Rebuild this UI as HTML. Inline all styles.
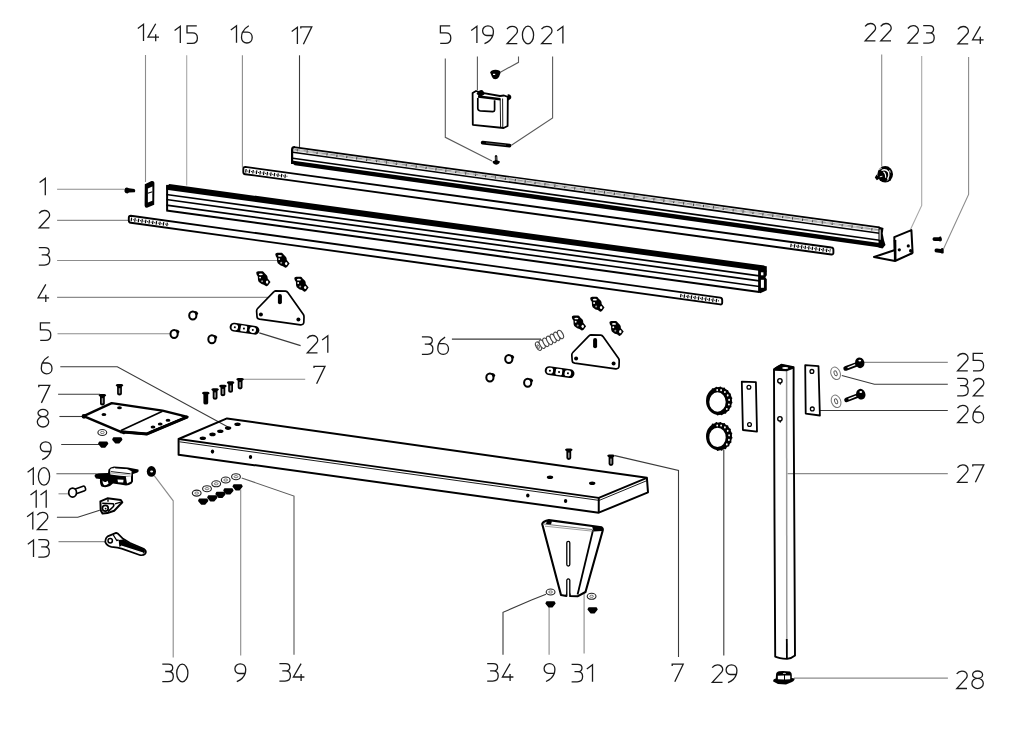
<!DOCTYPE html>
<html><head><meta charset="utf-8"><title>Parts diagram</title><style>
body{margin:0;background:#fff;font-family:"Liberation Sans",sans-serif;}
svg{display:block}
.k{stroke:#000;fill:none;stroke-linejoin:round}
.ld{stroke-width:1.1;fill:none}
.dg{stroke:#1a1a1a;stroke-width:1.3;fill:none}
</style></head>
<body><svg width="1024" height="737" viewBox="0 0 1024 737">
<defs><path id="g0" d="M5.7,0 A5.6,8.8 0 1 0 5.7,17.6 A5.6,8.8 0 1 0 5.7,0 Z"/><path id="g1" d="M0.2,4.6 L5.9,0.4 V17.3"/><path id="g2" d="M0.3,2.9 C1.8,0.9 3.4,0.1 5.5,0.1 C8.6,0.1 10.8,1.9 10.8,4.5 C10.8,5.6 10.4,6.5 9.7,7.4 L0.4,17.5 H10.6"/><path id="g3" d="M0,0 H6 C8.9,0 10.4,1.7 10.4,3.7 C10.4,5.8 8.9,7.3 6,7.3 H2.9 M6,7.3 C9.1,7.3 11,9.2 11,12.2 C11,15.4 9,17.5 5.6,17.5 H0"/><path id="g4" d="M7.7,0 L0,13.4 H11 M7.7,10.4 V17.5"/><path id="g5" d="M10.4,0 H0.6 V7 H6 C9,7 11,9.1 11,12.1 C11,15.4 9,17.5 5.6,17.5 H0.4"/><path id="g6" d="M7.6,0.3 C5,1.8 2.6,3.8 1.3,6.8 H6.3 C9,6.8 11,9 11,12.2 C11,15.3 8.8,17.6 5.7,17.6 C2.6,17.6 0.3,15.3 0.3,12.2 C0.3,10 0.6,8.2 1.3,6.8"/><path id="g7" d="M0,1.8 V0 H11 L2.6,17.5"/><path id="g8" d="M5.8,0 A5,3.65 0 1 0 5.8,7.3 A5,3.65 0 1 0 5.8,0 Z M5.8,7.3 A5.7,5.15 0 1 0 5.8,17.6 A5.7,5.15 0 1 0 5.8,7.3 Z"/><path id="g9" d="M2.2,17.9 C5.5,16.5 9.2,13.8 10.5,9.7 H4.5 C2,9.7 0.3,7.6 0.3,5 C0.3,2.2 2.6,0 5.6,0 C8.7,0 11.1,2.3 11.1,5.4 C11.1,7 10.9,8.4 10.5,9.7"/><g id="scr"><path d="M-3.8,1.4 Q-3.8,-0.2 -2,-0.2 H2 Q3.8,-0.2 3.8,1.4 L2.4,2.6 V9.5 Q2.4,11.3 0,11.3 Q-2.4,11.3 -2.4,9.5 V2.6 Z" fill="#000"/><rect x="-0.75" y="4" width="1.5" height="5.2" fill="#999"/></g><g id="scrB"><path d="M-3.8,1.4 Q-3.8,-0.2 -2,-0.2 H2 Q3.8,-0.2 3.8,1.4 L2.4,2.6 V11 Q2.4,12.5 0,12.5 Q-2.4,12.5 -2.4,11 V2.6 Z" fill="#000"/></g><g id="wsh"><ellipse rx="4.4" ry="3" fill="#fff" stroke="#222" stroke-width="1.1"/><ellipse rx="1.9" ry="1.1" fill="none" stroke="#666" stroke-width="0.9"/></g><g id="nut"><path d="M-4.2,-3.1 Q-4.1,-3.4 -3.6,-3.4 H3.6 Q4.1,-3.4 4.2,-3.1 L5.1,-1.4 Q5.1,-0.9 4.8,-0.5 L2.2,2.6 Q1.9,2.9 1.4,2.9 H-1.4 Q-1.9,2.9 -2.2,2.6 L-4.8,-0.5 Q-5.1,-0.9 -5.1,-1.4 Z" fill="#000"/></g><g id="wing"><path d="M0,1 Q0,-0.4 2,-0.5 L6.5,-0.5 Q7.6,-0.1 8.3,1.2 L10.7,3.6 Q11.5,4.7 11.5,6.8 L14.3,10.2 L11.8,13.7 Q10.3,14.9 9.6,14.3 L7.6,12.9 Q5,12.6 4,11.3 Q2,10.1 1.8,8.3 L1.6,4.6 Q0.2,3 0,1 Z" fill="#000"/><ellipse cx="4.6" cy="2.5" rx="2" ry="0.85" fill="#fff"/><circle cx="3.9" cy="5.8" r="0.95" fill="#fff"/><circle cx="5.9" cy="9.4" r="1" fill="#999"/><ellipse cx="10.9" cy="10.3" rx="1.2" ry="1.6" fill="#fff"/></g><g id="spc"><ellipse rx="3.6" ry="4" fill="#fff" stroke="#000" stroke-width="2"/><path d="M1.8,-4.4 Q4.5,-4.3 5.5,-2.2 Q5,-0.4 3.3,0 L2.2,-2.4 Z" fill="#000"/></g><g id="tri"><path d="M275.6,290.8 L285.6,291.2 Q287,291.4 288,292.8 L303.4,314.5 Q304,315.5 304,317 L303.8,322.5 Q303.5,325 300.5,324.8 L259.5,319.2 Q257,318.8 257,316.5 L256.6,311 Q256.6,309.5 257.6,308.5 L273.5,292.2 Q274.4,290.9 275.6,290.8 Z" fill="#fff" stroke="#000" stroke-width="1.7" stroke-linejoin="round"/><rect x="277.9" y="294" width="4" height="10.2" rx="2" fill="#000"/><circle cx="260.9" cy="314.5" r="2" fill="#000"/><circle cx="298.4" cy="319.6" r="2" fill="#000"/></g><g id="strip"><g transform="rotate(8.5)"><rect x="-15" y="-4.4" width="30" height="8.8" rx="4.4" fill="#000"/><rect x="-13" y="-2.9" width="6.4" height="5.8" rx="2.6" fill="#fff"/><rect x="-4" y="-3" width="6.6" height="6" rx="1.2" fill="#fff"/><rect x="5" y="-2.9" width="6.6" height="5.8" rx="2.6" fill="#fff"/><rect x="-6.2" y="-3.2" width="1.8" height="6.4" fill="#000"/><rect x="2.9" y="-3.2" width="1.8" height="6.4" fill="#000"/><circle cx="-9.8" cy="0" r="1" fill="#000"/><circle cx="-0.6" cy="0" r="1" fill="#000"/><circle cx="8.4" cy="0" r="1" fill="#000"/></g></g></defs>
<rect width="1024" height="737" fill="#fff"/>
<g id="parts">
<use class="dg" href="#g1" x="137.6" y="23.8"/>
<use class="dg" href="#g4" x="148.0" y="23.8"/>
<use class="dg" href="#g1" x="174.4" y="25.8"/>
<use class="dg" href="#g5" x="186.4" y="25.8"/>
<use class="dg" href="#g1" x="230.6" y="25.4"/>
<use class="dg" href="#g6" x="241.2" y="25.4"/>
<use class="dg" href="#g1" x="291.5" y="26.8"/>
<use class="dg" href="#g7" x="300.8" y="26.8"/>
<use class="dg" href="#g5" x="439.8" y="25.8"/>
<use class="dg" href="#g1" x="471.0" y="25.8"/>
<use class="dg" href="#g9" x="482.3" y="25.8"/>
<use class="dg" href="#g2" x="506.7" y="26.2"/>
<use class="dg" href="#g0" x="522.3" y="26.2"/>
<use class="dg" href="#g2" x="541.2" y="26.2"/>
<use class="dg" href="#g1" x="557.0" y="26.2"/>
<use class="dg" href="#g2" x="864.8" y="23.4"/>
<use class="dg" href="#g2" x="880.4" y="23.4"/>
<use class="dg" href="#g2" x="907.6" y="25.6"/>
<use class="dg" href="#g3" x="923.2" y="25.6"/>
<use class="dg" href="#g2" x="957.6" y="26.4"/>
<use class="dg" href="#g4" x="972.6" y="26.4"/>
<use class="dg" href="#g1" x="39.4" y="178.0"/>
<use class="dg" href="#g2" x="38.8" y="210.4"/>
<use class="dg" href="#g3" x="38.8" y="247.6"/>
<use class="dg" href="#g4" x="38.1" y="284.4"/>
<use class="dg" href="#g5" x="39.8" y="322.8"/>
<use class="dg" href="#g6" x="41.0" y="356.2"/>
<use class="dg" href="#g7" x="38.8" y="385.4"/>
<use class="dg" href="#g8" x="37.2" y="409.4"/>
<use class="dg" href="#g9" x="40.0" y="441.8"/>
<use class="dg" href="#g1" x="27.4" y="467.6"/>
<use class="dg" href="#g0" x="38.3" y="467.6"/>
<use class="dg" href="#g1" x="30.3" y="490.4"/>
<use class="dg" href="#g1" x="40.3" y="490.4"/>
<use class="dg" href="#g1" x="26.9" y="512.2"/>
<use class="dg" href="#g2" x="37.0" y="512.2"/>
<use class="dg" href="#g1" x="27.6" y="539.6"/>
<use class="dg" href="#g3" x="38.3" y="539.6"/>
<use class="dg" href="#g2" x="306.9" y="335.4"/>
<use class="dg" href="#g1" x="321.9" y="335.4"/>
<use class="dg" href="#g7" x="314.0" y="366.3"/>
<use class="dg" href="#g3" x="421.9" y="336.8"/>
<use class="dg" href="#g6" x="437.5" y="336.8"/>
<use class="dg" href="#g2" x="957.2" y="353.4"/>
<use class="dg" href="#g5" x="972.6" y="353.4"/>
<use class="dg" href="#g3" x="957.2" y="378.4"/>
<use class="dg" href="#g2" x="973.0" y="378.4"/>
<use class="dg" href="#g2" x="957.2" y="405.2"/>
<use class="dg" href="#g6" x="972.6" y="405.2"/>
<use class="dg" href="#g2" x="957.2" y="464.8"/>
<use class="dg" href="#g7" x="972.8" y="464.8"/>
<use class="dg" href="#g2" x="956.4" y="671.0"/>
<use class="dg" href="#g8" x="971.8" y="671.0"/>
<use class="dg" href="#g3" x="162.3" y="664.2"/>
<use class="dg" href="#g0" x="176.6" y="664.2"/>
<use class="dg" href="#g9" x="234.6" y="663.8"/>
<use class="dg" href="#g3" x="279.4" y="663.6"/>
<use class="dg" href="#g4" x="293.4" y="663.6"/>
<use class="dg" href="#g3" x="487.2" y="663.6"/>
<use class="dg" href="#g4" x="502.4" y="663.6"/>
<use class="dg" href="#g9" x="543.8" y="663.6"/>
<use class="dg" href="#g3" x="571.6" y="664.4"/>
<use class="dg" href="#g1" x="586.6" y="664.4"/>
<use class="dg" href="#g7" x="672.2" y="664.2"/>
<use class="dg" href="#g2" x="711.9" y="664.8"/>
<use class="dg" href="#g9" x="725.8" y="664.8"/>
<path class="ld" stroke="#8c8c8c" d="M145.5,55.0 L145.5,182.0"/>
<path class="ld" stroke="#a8a8a8" d="M186.7,55.3 L186.7,185.5"/>
<path class="ld" stroke="#8c8c8c" d="M242.4,55.3 L242.4,167.5"/>
<path class="ld" stroke="#3a3a3a" d="M299.5,55.3 L299.5,148.0"/>
<path class="ld" stroke="#5a5a5a" d="M445.3,58.5 L445.3,137.3 L492.0,161.0"/>
<path class="ld" stroke="#5a5a5a" d="M477.4,56.4 L477.4,90.0"/>
<path class="ld" stroke="#5a5a5a" d="M518.5,56.6 L518.5,62.3 L500.8,72.0"/>
<path class="ld" stroke="#5a5a5a" d="M552.6,56.4 L552.6,118.0 L511.4,145.2"/>
<path class="ld" stroke="#8c8c8c" d="M881.7,54.4 L881.7,166.5"/>
<path class="ld" stroke="#a8a8a8" d="M921.7,56.0 L921.7,205.5 L910.5,229.5"/>
<path class="ld" stroke="#8c8c8c" d="M968.6,56.9 L968.6,194.5 L943.0,250.0"/>
<path class="ld" stroke="#8c8c8c" d="M57.1,189.3 L124.5,189.3"/>
<path class="ld" stroke="#8c8c8c" d="M57.1,220.4 L128.6,220.4"/>
<path class="ld" stroke="#8c8c8c" d="M57.1,260.5 L277.0,260.5"/>
<path class="ld" stroke="#8c8c8c" d="M57.1,297.4 L268.0,297.4"/>
<path class="ld" stroke="#8c8c8c" d="M57.5,333.8 L171.0,333.8"/>
<path class="ld" stroke="#3a3a3a" d="M60.3,366.7 L117.3,366.7 L228.0,427.0"/>
<path class="ld" stroke="#3a3a3a" d="M58.1,394.3 L100.0,394.3"/>
<path class="ld" stroke="#3a3a3a" d="M59.4,416.5 L83.6,416.5"/>
<path class="ld" stroke="#3a3a3a" d="M61.2,444.5 L100.0,444.5"/>
<path class="ld" stroke="#5a5a5a" d="M56.4,473.7 L96.6,473.7"/>
<path class="ld" stroke="#8c8c8c" d="M58.5,493.8 L68.4,493.8"/>
<path class="ld" stroke="#3a3a3a" d="M56.9,517.3 L77.8,517.3 L99.7,510.2"/>
<path class="ld" stroke="#8c8c8c" d="M58.5,541.6 L105.2,541.6"/>
<path class="ld" stroke="#3a3a3a" d="M259.3,332.9 L300.6,345.6"/>
<path class="ld" stroke="#8c8c8c" d="M242.7,379.3 L305.2,379.3"/>
<path class="ld" stroke="#3a3a3a" d="M451.9,339.1 L541.0,339.1"/>
<path class="ld" stroke="#8c8c8c" d="M863.4,362.4 L947.8,362.4"/>
<path class="ld" stroke="#3a3a3a" d="M841.8,375.5 L874.4,384.2 L947.8,384.2"/>
<path class="ld" stroke="#3a3a3a" d="M819.7,410.5 L947.8,410.5"/>
<path class="ld" stroke="#8c8c8c" d="M787.5,473.6 L947.8,473.6"/>
<path class="ld" stroke="#8c8c8c" d="M794.0,678.1 L947.9,678.1"/>
<path class="ld" stroke="#8c8c8c" d="M154.4,475.8 L173.2,500.8 L173.2,657.6"/>
<path class="ld" stroke="#8c8c8c" d="M240.7,489.4 L240.7,655.4"/>
<path class="ld" stroke="#5a5a5a" d="M241.7,478.0 L294.0,496.1 L294.0,654.8"/>
<path class="ld" stroke="#3a3a3a" d="M546.0,594.3 L531.5,600.0 L503.0,612.3 L503.0,654.8"/>
<path class="ld" stroke="#8c8c8c" d="M549.1,606.2 L549.1,654.8"/>
<path class="ld" stroke="#8c8c8c" d="M584.1,593.6 L584.1,653.6"/>
<path class="ld" stroke="#3a3a3a" d="M614.8,455.6 L678.5,470.5 L678.5,657.1"/>
<path class="ld" stroke="#3a3a3a" d="M723.8,449.4 L723.8,655.4"/>
<polygon fill="#000" points="291.8,160.49 879.5,243.00 883.5,248.06 294.8,165.32 291.8,163.10"/>
<line stroke="#c4c4c4" stroke-width="2.6" x1="292.8" y1="149.56" x2="879.5" y2="230.31"/>
<line stroke="#333" stroke-width="2.4" stroke-dasharray="1 9" x1="296.8" y1="150.11" x2="879.5" y2="230.31"/>
<line stroke="#888" stroke-width="0.8" stroke-dasharray="5 4" x1="294.8" y1="149.47" x2="879.5" y2="229.89"/>
<line class="k" stroke-width="1.7" x1="293.8" y1="147.17" x2="879.5" y2="227.41"/>
<line class="k" stroke-width="1.6" x1="292.8" y1="152.17" x2="879.5" y2="233.30"/>
<line class="k" stroke-width="1.6" x1="292.8" y1="158.29" x2="879.5" y2="240.32"/>
<path class="k" stroke-width="2.2" d="M294.8,147.01 Q292.1,146.90 292.1,149.60 V164.00"/>
<path fill="#000" d="M878.5,226.6 L883.5,228.0 L882.7,233.6 L884.0,240.2 L885.5,245.0 L882.5,248.5 L878.5,247.6 Z"/>
<line stroke="#fff" stroke-width="1.1" x1="880.1" y1="229.5" x2="880.1" y2="239.8"/>
<path class="k" stroke-width="1.9" fill="#fff" d="M245.3,166.9 L831.4,247.5 Q833.4,247.7 833.4,249.7 L833.4,252.7 Q833.4,254.7 831.4,254.5 L245.3,174.2 Q243.3,173.9 243.3,171.9 L243.3,168.9 Q243.3,166.9 245.3,166.9 Z"/>
<line stroke="#000" stroke-width="3.6" stroke-dasharray="1.2 2.4" x1="245.3" y1="170.7" x2="287.3" y2="176.4"/>
<line stroke="#000" stroke-width="1.1" stroke-dasharray="0.9 2.7" stroke-dashoffset="-2.1" x1="245.3" y1="170.7" x2="287.3" y2="176.4"/>
<line stroke="#000" stroke-width="3.6" stroke-dasharray="1.2 2.4" x1="790.4" y1="245.4" x2="830.4" y2="250.8"/>
<line stroke="#000" stroke-width="1.1" stroke-dasharray="0.9 2.7" stroke-dashoffset="-2.1" x1="790.4" y1="245.4" x2="830.4" y2="250.8"/>
<polygon fill="#000" points="169.3,184.0 764.3,265.6 766.8,271.8 166.3,189.7 166.3,186.4"/>
<line class="k" stroke-width="1.7" x1="166.3" y1="194.5" x2="759.3" y2="275.9"/>
<line class="k" stroke-width="1.7" x1="166.3" y1="199.5" x2="759.3" y2="280.9"/>
<line class="k" stroke-width="1.7" x1="166.3" y1="205.1" x2="759.3" y2="286.5"/>
<line class="k" stroke-width="2.0" x1="166.3" y1="210.5" x2="759.3" y2="291.9"/>
<line class="k" stroke-width="2" x1="167.10000000000002" y1="184.9" x2="167.10000000000002" y2="210.5"/>
<path fill="#000" d="M758.3,265.3 L766.8,266.3 L766.8,275.3 L765.3,277.3 L766.8,279.3 L766.8,290.3 L760.3,293.3 L758.3,292.3 Z"/>
<rect fill="#fff" x="760.9" y="272.3" width="2.5" height="3"/>
<rect fill="#fff" x="760.9" y="279.8" width="3" height="8"/>
<line class="k" stroke-width="1.8" x1="759.3" y1="265.3" x2="759.3" y2="292.3"/>
<path class="k" stroke-width="1.9" fill="#fff" d="M130.8,215.7 L720.2,297.6 Q722.2,297.9 722.2,299.9 L722.2,302.7 Q722.2,304.7 720.2,304.4 L130.8,222.8 Q128.8,222.5 128.8,220.5 L128.8,217.7 Q128.8,215.7 130.8,215.7 Z"/>
<line stroke="#000" stroke-width="3.6" stroke-dasharray="1.2 2.4" x1="130.8" y1="219.4" x2="168.8" y2="224.6"/>
<line stroke="#000" stroke-width="1.1" stroke-dasharray="0.9 2.7" stroke-dashoffset="-2.1" x1="130.8" y1="219.4" x2="168.8" y2="224.6"/>
<line stroke="#000" stroke-width="3.6" stroke-dasharray="1.2 2.4" x1="680.2" y1="295.5" x2="719.2" y2="300.9"/>
<line stroke="#000" stroke-width="1.1" stroke-dasharray="0.9 2.7" stroke-dashoffset="-2.1" x1="680.2" y1="295.5" x2="719.2" y2="300.9"/>
<polygon class="k" stroke-width="2" fill="#fff" points="178.6,439 227,418.4 646.9,477.8 648,492.3 598.75,512.7 178.6,454.7"/>
<polyline class="k" stroke-width="1.8" fill="none" points="178.6,439 598.75,497.8 646.9,477.8"/>
<line class="k" stroke-width="2" x1="598.75" y1="497.8" x2="598.75" y2="512.7"/>
<polyline stroke="#000" stroke-width="0.9" fill="none" points="179.5,441.8 599.2,500.4 647.5,480.4"/>
<ellipse cx="202.8" cy="438.3" rx="3.2" ry="1.8" fill="#000"/>
<ellipse cx="212.5" cy="434.4" rx="3.2" ry="1.8" fill="#000"/>
<ellipse cx="220.3" cy="431.25" rx="3.2" ry="1.8" fill="#000"/>
<ellipse cx="228.1" cy="428.1" rx="3.2" ry="1.8" fill="#000"/>
<ellipse cx="237.5" cy="424.2" rx="3.2" ry="1.8" fill="#000"/>
<ellipse cx="550" cy="477.2" rx="3.2" ry="1.8" fill="#000"/>
<ellipse cx="592.2" cy="483.3" rx="3.2" ry="1.8" fill="#000"/>
<ellipse cx="212.5" cy="451.6" rx="1.7" ry="2.1" fill="#000"/>
<ellipse cx="250.5" cy="457" rx="1.7" ry="2.1" fill="#000"/>
<ellipse cx="527.8" cy="495.5" rx="1.7" ry="2.1" fill="#000"/>
<ellipse cx="565.6" cy="501" rx="1.7" ry="2.1" fill="#000"/>
<path class="k" stroke-width="1.9" fill="#fff" d="M774,369.4 L781.3,364.8 L793.6,367.2 L793.6,400 L794.3,520 L795,655.4 Q791,658.6 787,658.9 Q779,658.4 775.2,656.6 L774.5,520 Z"/>
<line stroke="#9a9a9a" stroke-width="1.5" x1="786.6" y1="371" x2="786.8" y2="639"/>
<line class="k" stroke-width="1.8" x1="786.8" y1="639" x2="786.9" y2="658.6"/>
<path fill="#000" d="M773.4,369.2 Q775,367 781.3,364.3 L793.9,366.8 L793.9,368.6 L786.7,371.3 L774.6,370.8 Z"/>
<ellipse cx="785.2" cy="368" rx="3.1" ry="1.1" fill="#fff"/>
<circle cx="779.9" cy="380.8" r="2.2" fill="#fff" stroke="#000" stroke-width="1.4"/><line x1="780.2" y1="383" x2="780.4" y2="384.6" stroke="#000" stroke-width="1.2"/>
<circle cx="779.9" cy="418.8" r="2.2" fill="#fff" stroke="#000" stroke-width="1.4"/><line x1="780.2" y1="421" x2="780.4" y2="422.6" stroke="#000" stroke-width="1.2"/>
<path fill="#000" d="M776,675 Q776,672 779,671.3 L783,670.9 L790,671.5 Q792,672.5 791.8,675 L791.8,678 L794.5,678.6 Q795,680.6 792,682 L786,684.4 L778,684 L773.2,681.6 Q772.8,679 775.8,678.4 Z"/>
<path fill="#fff" d="M777.8,675.8 L784,675.6 L784,679.6 L777.9,679.2 Z M785,675.6 L790.2,675.4 L790.2,679.2 L785,679.6 Z"/>
<ellipse cx="784.4" cy="673.4" rx="1.6" ry="0.6" fill="#bbb"/>
<path class="k" stroke-width="2.1" fill="#fff" d="M542.2,524 Q543,521 548.9,520.1 L601.6,527.3 Q603.4,528.6 602.6,531 L585.5,592 L577.5,596.3 L570,596 L568.2,590 L566.4,596 L561,595 Z"/>
<line stroke="#000" stroke-width="1.8" x1="593" y1="530.2" x2="577.6" y2="594.5"/>
<polyline stroke="#555" stroke-width="0.8" fill="none" points="544,524 592.7,529.6"/>
<polyline stroke="#888" stroke-width="0.8" fill="none" points="545,526.2 592.7,531.2"/>
<path fill="#000" d="M592,526.3 L601.8,527.4 Q603,529 602.2,531 L593.6,531.4 Z"/>
<path fill="#000" d="M547,520.6 L552,521.2 L551,524.4 L546,524 Z"/>
<rect x="566.8" y="541.3" width="3" height="24.7" rx="1.5" fill="#fff" stroke="#000" stroke-width="1.3"/>
<path fill="#fff" stroke="#000" stroke-width="1.3" d="M566.8,596 V580 Q568.3,577.8 569.8,580 V596"/>
<path d="M124.5,189.5 Q125,187.2 127,187.4 L129,188.3 L134.5,188.9 Q136,190.5 134.8,192.3 L129,192.6 L127.5,193.6 Q125,193.4 124.5,191.5 Z" fill="#000"/>
<path d="M144.8,184.3 L151.5,181 Q154.6,180.6 154.4,183.5 L154.2,204.8 L147,207.8 Q144.6,208 144.6,205.5 Z" fill="#000"/>
<path d="M147.9,188.6 L152.4,186.4 L152.3,200.8 L147.9,202.4 Z" fill="#fff"/>
<line x1="147.8" y1="193.2" x2="152.4" y2="191.8" stroke="#000" stroke-width="1.2"/>
<use href="#wing" x="275.3" y="253.3"/>
<use href="#wing" x="256.2" y="271.8"/>
<use href="#wing" x="294.3" y="277.2"/>
<use href="#wing" x="590.2" y="297.2"/>
<use href="#wing" x="571.8" y="316.0"/>
<use href="#wing" x="609.4" y="321.4"/>
<use href="#tri"/>
<use href="#tri" transform="translate(315.2,44)"/>
<use href="#spc" x="192.8" y="315.5"/>
<use href="#spc" x="174.1" y="334"/>
<use href="#spc" x="211.9" y="339.3"/>
<use href="#spc" x="508.8" y="359.1"/>
<use href="#spc" x="489.9" y="377.4"/>
<use href="#spc" x="527.7" y="382.7"/>
<use href="#strip" transform="translate(244.5,328.7)"/>
<use href="#strip" transform="translate(559.6,372.1)"/>
<ellipse cx="538.5" cy="346.2" rx="2.4" ry="4.6" transform="rotate(-28 538.5 346.2)" fill="#fff" stroke="#444" stroke-width="1.1"/><ellipse cx="542.2" cy="344.2" rx="2.4" ry="4.6" transform="rotate(-28 542.2 344.2)" fill="#fff" stroke="#444" stroke-width="1.1"/><ellipse cx="545.8" cy="342.3" rx="2.4" ry="4.6" transform="rotate(-28 545.8 342.3)" fill="#fff" stroke="#444" stroke-width="1.1"/><ellipse cx="549.5" cy="340.4" rx="2.4" ry="4.6" transform="rotate(-28 549.5 340.4)" fill="#fff" stroke="#444" stroke-width="1.1"/><ellipse cx="553.2" cy="338.4" rx="2.4" ry="4.6" transform="rotate(-28 553.2 338.4)" fill="#fff" stroke="#444" stroke-width="1.1"/><ellipse cx="556.8" cy="336.4" rx="2.4" ry="4.6" transform="rotate(-28 556.8 336.4)" fill="#fff" stroke="#444" stroke-width="1.1"/><ellipse cx="560.5" cy="334.5" rx="2.4" ry="4.6" transform="rotate(-28 560.5 334.5)" fill="#fff" stroke="#444" stroke-width="1.1"/>
<ellipse cx="538.3" cy="346.6" rx="1" ry="2" transform="rotate(-28 538.3 346.6)" fill="none" stroke="#444" stroke-width="0.8"/>
<path d="M490.2,72.5 Q491,69.8 495.5,69.8 Q500,69.8 500.8,72.3 L499,77 Q497.5,79.3 495.2,79.3 Q493,79.3 492,77 Z" fill="#000"/>
<rect x="493" y="73.8" width="2.2" height="1.2" fill="#fff"/>
<path d="M472.6,93 L476,91 L481,92.6 L500,96 L504,95.5 L507.8,96.8 L507.6,126 L503.6,128 L472.8,124.8 Z" fill="#fff" stroke="#000" stroke-width="1.8" stroke-linejoin="round"/>
<path d="M477.8,98 L477.8,108.5 Q478,110.6 480.2,110.8 L493,111.6 Q494.6,111.6 494.6,110 L494.6,100.2" fill="none" stroke="#000" stroke-width="1.7"/>
<path d="M476.5,93.8 Q479,89.5 482.5,90.2 Q484.5,91.5 484.4,94.5 L480,97 Z" fill="#000"/>
<path d="M478,96.5 L500.5,99.2" stroke="#000" stroke-width="2.6"/>
<line x1="500.2" y1="99" x2="500.6" y2="127" stroke="#000" stroke-width="0.9"/><line x1="502.6" y1="98.5" x2="502.8" y2="127.5" stroke="#000" stroke-width="0.9"/>
<path d="M507.5,94.4 Q510.8,93.6 511.3,96.8 Q511.5,99.5 508,100.4 Z" fill="#000"/>
<line x1="482.6" y1="142.6" x2="509.6" y2="145.6" stroke="#000" stroke-width="3.6" stroke-linecap="round"/>
<line x1="486" y1="142.9" x2="506" y2="145.1" stroke="#777" stroke-width="0.7"/>
<path d="M494.8,156 Q496,154 497.3,156 L497.5,160.4 L499.8,161.2 Q500,164 496.2,164.8 Q492.4,164 492.6,161.2 L494.9,160.4 Z" fill="#000"/>
<rect x="495.6" y="156.6" width="0.9" height="3.4" fill="#888"/>
<ellipse cx="885.2" cy="174.3" rx="7.8" ry="8.3" fill="#000"/>
<path d="M876.6,174.6 L874.8,177.4 L876.8,180.2 L879.8,178.4 Z" fill="#000"/>
<path d="M881.5,170.5 Q885.5,168.5 888.4,172 Q889.7,176 887.4,178.8" fill="none" stroke="#fff" stroke-width="1.3"/>
<path d="M883.4,171.8 Q886,173.5 885.6,177.8" fill="none" stroke="#fff" stroke-width="1.1"/>
<path d="M879,169.4 L881.6,168.4 M889.6,170.2 L890.2,172.6 M889,178.6 L886.8,180.6 M879.8,176.8 L882.4,176.2" stroke="#fff" stroke-width="0.9"/>
<path d="M894.3,237.2 L911.4,230.1 L912.6,252.7 L895,259.8 Z" fill="#fff" stroke="#000" stroke-width="2" stroke-linejoin="round"/>
<path d="M894.2,250.3 L874,257 L895,261 L912.6,253" fill="#fff" stroke="#000" stroke-width="2" stroke-linejoin="round"/>
<line x1="895" y1="240" x2="895.2" y2="260.5" stroke="#000" stroke-width="2.6"/>
<circle cx="899.3" cy="249.8" r="1.6" fill="#000"/>
<circle cx="908.3" cy="245.9" r="1.6" fill="#000"/>
<circle cx="910.6" cy="250.7" r="1.6" fill="#000"/>
<path d="M932.6,238.6 Q933,236.9 935,237.2 L938.8,237.3 Q939.5,236.2 941,236.6 Q942.2,238.6 941.7,240.8 Q940.2,241.9 938.8,241 L935,241 Q933,241 932.6,239.8 Z" fill="#000"/>
<path d="M934.6,249.8 Q935,248.2 937,248.4 L940.8,249 Q941.5,247.7 943,248.2 Q944.4,250.3 943.7,253 Q942.3,254.2 940.8,253 L937,252.6 Q935,252.6 934.6,251.3 Z" fill="#000"/>
<use href="#scrB" x="205.8" y="392"/>
<use href="#scr" x="215.1" y="388.4"/>
<use href="#scr" x="222.9" y="384.9"/>
<use href="#scr" x="230.6" y="381.5"/>
<use href="#scr" x="240.1" y="378.1"/>
<use href="#scr" x="102.4" y="394.2"/>
<use href="#scr" x="119.5" y="384.2"/>
<use href="#scr" x="568.8" y="448.6"/>
<use href="#scr" x="611" y="454.6"/>
<path d="M83.6,416.1 L111.7,403.1 L162.5,410.6 L187.5,416.9 L146.9,434 L120.3,431.7 Z" fill="#fff" stroke="#000" stroke-width="2.4" stroke-linejoin="round"/>
<path d="M120.3,431.7 L146.9,434 L187.5,416.9" fill="none" stroke="#000" stroke-width="3"/>
<line x1="121" y1="430.4" x2="162.5" y2="411.2" stroke="#000" stroke-width="1.6"/>
<path d="M181,416 L185.5,417 L168.2,424.2 L149.4,431.8" fill="none" stroke="#000" stroke-width="1"/>
<ellipse cx="103.9" cy="414.5" rx="2.4" ry="1.5" fill="#000"/>
<ellipse cx="119.5" cy="407.8" rx="2.4" ry="1.5" fill="#000"/>
<ellipse cx="153" cy="427" rx="2.4" ry="1.5" fill="#000"/>
<ellipse cx="160.2" cy="423.9" rx="2.4" ry="1.5" fill="#000"/>
<ellipse cx="168" cy="420.3" rx="2.4" ry="1.5" fill="#000"/>
<circle cx="84" cy="416.3" r="2.4" fill="#000"/>
<path d="M119,431.5 L126,432.5 L124,434.5 Z" fill="#000"/>
<use href="#wsh" x="102.3" y="432.5"/>
<use href="#nut" x="103.2" y="444.8"/>
<use href="#nut" x="117.3" y="440.7"/>
<use href="#wsh" x="196.7" y="493.1"/>
<use href="#wsh" x="207" y="488.7"/>
<use href="#wsh" x="216.2" y="483.8"/>
<use href="#wsh" x="225.7" y="480"/>
<use href="#wsh" x="236" y="476.7"/>
<use href="#nut" x="203.2" y="501.9"/>
<use href="#nut" x="212.3" y="498.7"/>
<use href="#nut" x="220.5" y="495.2"/>
<use href="#nut" x="228.4" y="491.7"/>
<use href="#nut" x="237.6" y="487.6"/>
<use href="#wsh" x="550.6" y="592"/>
<use href="#wsh" x="591.6" y="596.3"/>
<use href="#nut" x="550.5" y="604.6"/>
<use href="#nut" x="592.6" y="610.6"/>
<path d="M94.5,476 Q95,473.5 99,473.3 L108,473 L108.5,469.5 Q110,466.8 114,466.5 L128,467.5 L138.4,469.5 Q139.5,471.5 137.5,472.6 L133,474 L133,481.5 Q132.5,483.5 129,485 L126,485.6 L120,484.5 L113,483.5 L110,486 Q106,488 101.5,486.5 Q99.5,484 100,479 L96,478.5 Z" fill="#000"/>
<path d="M110.2,469.4 Q111,468.4 113,468.3 L127.5,469.2 L131.6,471.2 L131.2,476.4 L120,475.8 L110.4,474.4 Z" fill="#fff"/>
<path d="M111,471.6 L130.6,473.8" stroke="#000" stroke-width="0.9"/>
<path d="M111,473.2 L130.6,475.2" stroke="#999" stroke-width="0.7"/>
<path d="M125.8,476.6 L131,476.2 L131,481.4 L127,483.4 Z" fill="#fff"/>
<path d="M102.6,480.6 Q104,482.5 106,482 L107.5,480.8 L108.6,483.6 Q106.5,485.6 104.5,485.3 Q102.6,484.4 102.6,480.6 Z" fill="#fff"/>
<path d="M117.5,479.6 L123.5,479.8 L123.2,482.6 L118,482.2 Z" fill="#fff"/>
<circle cx="114.5" cy="468.6" r="0.8" fill="#fff"/><circle cx="126" cy="469.8" r="0.9" fill="#fff"/>
<ellipse cx="151.4" cy="471.4" rx="4.6" ry="5.3" fill="#000"/>
<ellipse cx="151.6" cy="471.5" rx="1.5" ry="1.1" fill="#fff"/>
<g transform="rotate(-20 74 492)"><rect x="74" y="489.6" width="12" height="4.8" rx="1.5" fill="#fff" stroke="#000" stroke-width="1.6"/></g>
<ellipse cx="72.6" cy="492.6" rx="3.9" ry="4.5" fill="#fff" stroke="#000" stroke-width="1.7"/>
<path d="M100.4,501.3 L107.4,498.3 L120.8,500 L122.3,502.2 L114.2,510.8 L107.4,513.1 L102.5,513.4 L100.7,510.3 Z" fill="#fff" stroke="#000" stroke-width="2" stroke-linejoin="round"/>
<path d="M102.2,503.2 L113.2,503.8 Q114.6,505 112.9,507 L108,511.6" fill="none" stroke="#000" stroke-width="1.6"/>
<path d="M115,503.8 L120.8,502.2 M108,499.3 L108,501.8" fill="none" stroke="#000" stroke-width="1.4"/>
<circle cx="105.3" cy="508.3" r="2.9" fill="#fff" stroke="#000" stroke-width="1.7"/><circle cx="105.6" cy="508.6" r="0.9" fill="#000"/>
<path d="M105.3,542.1 Q105.5,537.5 107.6,536.4 L116.1,532.9 L117.9,533.6 L123.1,538.8 L130.1,543 L144.2,549.1 Q146.8,551 145.4,553.6 Q143.5,555.6 140.4,555.2 L121.7,548.6 L117.5,547.7 L111.4,546.8 Q107,546 105.3,542.1 Z" fill="#fff" stroke="#000" stroke-width="1.7" stroke-linejoin="round"/>
<path d="M118.6,540 L123.4,539.6 L130.1,543.4 L144.4,549.6 Q145.6,551.5 144.4,553 L143.2,553.5 L121,546 L119.4,547 Z" fill="#000"/>
<path d="M121,546 L143,553.2" stroke="#fff" stroke-width="1.3"/>
<circle cx="110.2" cy="540.8" r="2.2" fill="#fff" stroke="#000" stroke-width="1.5"/>
<path d="M113.3,535 L116.8,540.5 L118.6,540" fill="none" stroke="#000" stroke-width="1.3"/>
<path fill-rule="evenodd" fill="#000" d="M706,401 A13,14 0 1 0 732,401 A13,14 0 1 0 706,401 Z M709.3,402 A8.2,9.7 0 1 0 725.7,402 A8.2,9.7 0 1 0 709.3,402 Z"/><circle cx="712.7" cy="389.2" r="1.0" fill="#000"/><circle cx="716.4" cy="387.7" r="1.0" fill="#000"/><circle cx="720.3" cy="387.5" r="1.0" fill="#000"/><circle cx="724.1" cy="388.6" r="1.0" fill="#000"/><circle cx="727.4" cy="390.9" r="1.0" fill="#000"/><circle cx="729.9" cy="394.2" r="1.0" fill="#000"/><circle cx="731.3" cy="398.2" r="1.0" fill="#000"/><circle cx="731.5" cy="402.4" r="1.0" fill="#000"/><circle cx="730.5" cy="406.5" r="1.0" fill="#000"/><circle cx="728.4" cy="410.1" r="1.0" fill="#000"/><circle cx="725.3" cy="412.8" r="1.0" fill="#000"/><circle cx="721.6" cy="414.3" r="1.0" fill="#000"/><circle cx="717.7" cy="414.5" r="1.0" fill="#000"/><ellipse cx="717.2" cy="390.1" rx="0.9" ry="1.1" fill="#fff"/><ellipse cx="721.1" cy="390.2" rx="0.9" ry="1.1" fill="#fff"/><ellipse cx="724.9" cy="392.0" rx="0.9" ry="1.1" fill="#fff"/><ellipse cx="727.7" cy="395.4" rx="0.9" ry="1.1" fill="#fff"/><ellipse cx="729.1" cy="399.9" rx="0.9" ry="1.1" fill="#fff"/><ellipse cx="728.9" cy="404.5" rx="0.9" ry="1.1" fill="#fff"/><ellipse cx="726.8" cy="409.0" rx="0.9" ry="1.1" fill="#fff"/>
<path fill-rule="evenodd" fill="#000" d="M706,436.4 A13,14 0 1 0 732,436.4 A13,14 0 1 0 706,436.4 Z M709.3,437.4 A8.2,9.7 0 1 0 725.7,437.4 A8.2,9.7 0 1 0 709.3,437.4 Z"/><circle cx="712.7" cy="424.6" r="1.0" fill="#000"/><circle cx="716.4" cy="423.1" r="1.0" fill="#000"/><circle cx="720.3" cy="422.9" r="1.0" fill="#000"/><circle cx="724.1" cy="424.0" r="1.0" fill="#000"/><circle cx="727.4" cy="426.3" r="1.0" fill="#000"/><circle cx="729.9" cy="429.6" r="1.0" fill="#000"/><circle cx="731.3" cy="433.6" r="1.0" fill="#000"/><circle cx="731.5" cy="437.8" r="1.0" fill="#000"/><circle cx="730.5" cy="441.9" r="1.0" fill="#000"/><circle cx="728.4" cy="445.5" r="1.0" fill="#000"/><circle cx="725.3" cy="448.2" r="1.0" fill="#000"/><circle cx="721.6" cy="449.7" r="1.0" fill="#000"/><circle cx="717.7" cy="449.9" r="1.0" fill="#000"/><ellipse cx="717.2" cy="425.5" rx="0.9" ry="1.1" fill="#fff"/><ellipse cx="721.1" cy="425.6" rx="0.9" ry="1.1" fill="#fff"/><ellipse cx="724.9" cy="427.4" rx="0.9" ry="1.1" fill="#fff"/><ellipse cx="727.7" cy="430.8" rx="0.9" ry="1.1" fill="#fff"/><ellipse cx="729.1" cy="435.3" rx="0.9" ry="1.1" fill="#fff"/><ellipse cx="728.9" cy="439.9" rx="0.9" ry="1.1" fill="#fff"/><ellipse cx="726.8" cy="444.4" rx="0.9" ry="1.1" fill="#fff"/>
<path d="M741.8,381.6 L755.9,382.2 L757,431.6 L742.9,430 Z" fill="#fff" stroke="#000" stroke-width="1.8" stroke-linejoin="round"/>
<circle cx="748.9" cy="387.2" r="1.9" fill="#fff" stroke="#000" stroke-width="1.3"/><circle cx="749.5" cy="424.5" r="1.9" fill="#fff" stroke="#000" stroke-width="1.3"/>
<path d="M805.2,365.2 L818.5,366.1 L819.9,415.5 L805.7,413.6 Z" fill="#fff" stroke="#000" stroke-width="1.8" stroke-linejoin="round"/>
<circle cx="811.9" cy="371.4" r="1.9" fill="#fff" stroke="#000" stroke-width="1.3"/><circle cx="812.3" cy="408.9" r="1.9" fill="#fff" stroke="#000" stroke-width="1.3"/>
<g transform="rotate(-22 835.6 373.3)"><ellipse cx="835.6" cy="373.3" rx="4.6" ry="6.4" fill="#fff" stroke="#777" stroke-width="1"/><ellipse cx="835.6" cy="373.3" rx="1.4" ry="2.6" fill="none" stroke="#555" stroke-width="0.9"/></g>
<g transform="rotate(-22 836.1 401.3)"><ellipse cx="836.1" cy="401.3" rx="4.6" ry="6.4" fill="#fff" stroke="#777" stroke-width="1"/><ellipse cx="836.1" cy="401.3" rx="1.4" ry="2.6" fill="none" stroke="#555" stroke-width="0.9"/></g>
<line x1="845.6" y1="368.5" x2="856.8" y2="364.3" stroke="#000" stroke-width="4.6" stroke-linecap="round"/>
<line x1="847.6" y1="367.7" x2="855.3" y2="364.6" stroke="#fff" stroke-width="1.2"/>
<ellipse cx="859.8" cy="362.8" rx="4.6" ry="5.4" transform="rotate(-20 859.8 362.8)" fill="#000"/>
<ellipse cx="859.8" cy="360.6" rx="1.4" ry="0.9" fill="#fff"/>
<line x1="846.5" y1="399.9" x2="857.8" y2="395.7" stroke="#000" stroke-width="4.6" stroke-linecap="round"/>
<line x1="848.5" y1="399.09999999999997" x2="856.3" y2="396.0" stroke="#fff" stroke-width="1.2"/>
<ellipse cx="860.8" cy="394.2" rx="4.6" ry="5.4" transform="rotate(-20 860.8 394.2)" fill="#000"/>
<ellipse cx="860.8" cy="392.0" rx="1.4" ry="0.9" fill="#fff"/>
</g>
</svg></body></html>
